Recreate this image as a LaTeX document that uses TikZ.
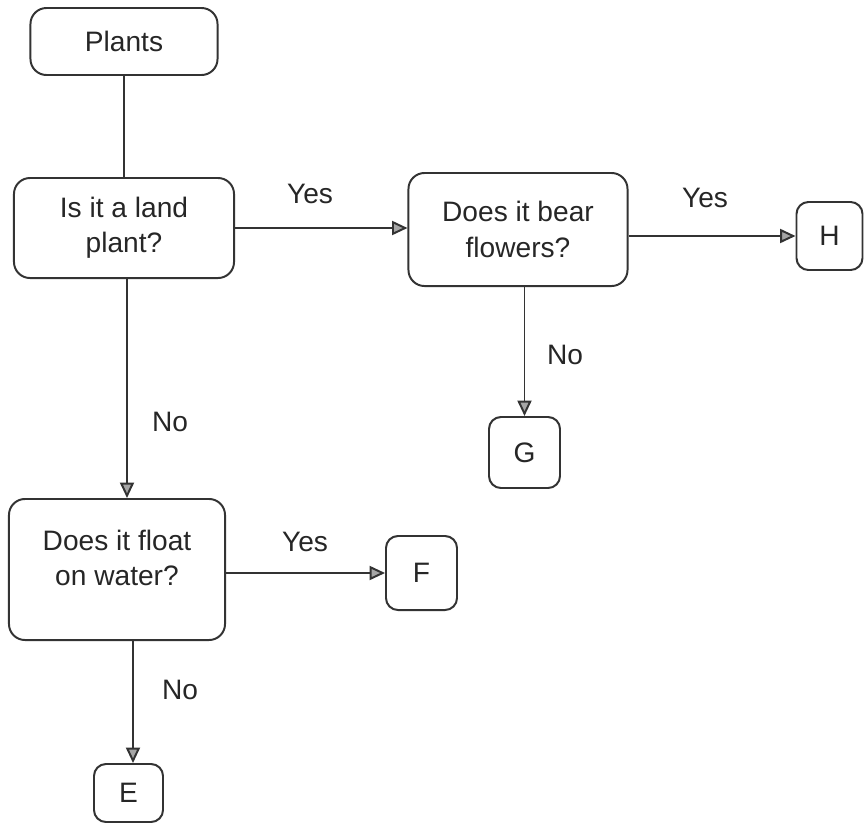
\documentclass[tikz,border=0pt]{standalone}
\usepackage{fontspec}
\setmainfont{Liberation Sans}
\usepackage{xcolor}
\usepackage{tikz}
\usetikzlibrary{calc,arrows.meta}

\begin{document}
\begin{tikzpicture}[x=0.025cm,y=-0.025cm]
  \tikzset{every node/.style={text=black!85,font=\fontsize{20}{25}\selectfont,align=center,inner sep=0pt},
    box/.style={draw=black!80,line width=1.4pt,rounded corners=0.4cm},
    leaf/.style={box,rounded corners=0.3cm},
    arr/.style={draw=black!80,line width=1.4pt,-{Triangle[length=11pt,width=10pt,fill=gray!70]}}};
  \useasboundingbox (0,0) rectangle (864,823);
  \node[box,minimum width=4.675cm,minimum height=1.675cm] (Plants) at (124,41.5){Plants};
  \node[box,minimum width=5.5cm,minimum height=2.5cm] (Land) at (124,228){Is it a land\\plant?};
  \node[box,minimum width=5.475cm,minimum height=2.825cm] (Flowers) at (518,229.5){Does it bear\\flowers?};
  \node[box,minimum width=5.4cm,minimum height=3.525cm] (Float) at (117,569.5){};
  \node (FloatText) at (117,558){Does it float\\on water?};
  \node[leaf,minimum width=1.65cm,minimum height=1.7cm] (H) at (829.5,236){H};
  \node[leaf,minimum width=1.775cm,minimum height=1.775cm] (G) at (524.5,452.5){G};
  \node[leaf,minimum width=1.775cm,minimum height=1.85cm] (F) at (421.5,573){F};
  \node[leaf,minimum width=1.725cm,minimum height=1.45cm] (E) at (128.5,793){E};
  \draw[draw=black!80,line width=1.4pt] (Plants) -- (Land);
  \draw[arr] (Land.east) -- (Flowers.west |- Land.east);
  \draw[arr] (Flowers.east |- H.west) -- (H.west);
  \draw[arr] (Flowers.south -| G.north) -- (G.north);
  \draw[arr] ([xshift=0.075cm]Land.south) -- ([xshift=0.075cm]Land.south |- Float.north);
  \draw[arr] (Float.east |- F.west) -- (F.west);
  \draw[arr] ([xshift=0.4cm]Float.south) -- ([xshift=0.4cm]Float.south |- E.north);
  \node (YesFlowers) at (310,194){Yes};
  \node (YesH) at (705,198){Yes};
  \node (NoG) at (565,355){No};
  \node (NoFloat) at (170,422){No};
  \node (YesF) at (305,542){Yes};
  \node (NoE) at (180,690){No};
\end{tikzpicture}
\end{document}
